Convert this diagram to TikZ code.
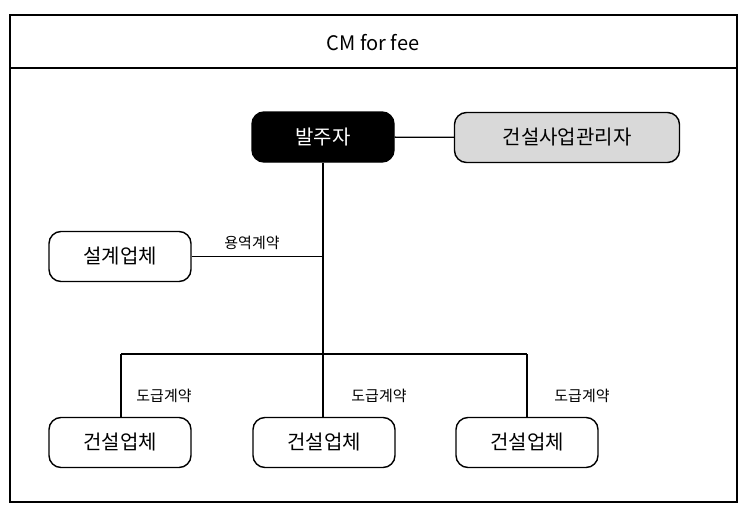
\documentclass[tikz,border=0pt]{standalone}
\usepackage{fontspec}
\setmainfont{Noto Sans CJK KR}
\begin{document}
\begin{tikzpicture}[x=1pt,y=-1pt,
  box/.style={draw=black,line width=1.4pt,rounded corners=12pt,minimum width=142pt,minimum height=50pt,font=\fontsize{20}{22}\selectfont,inner sep=0pt},
  lbl/.style={font=\fontsize{15}{17}\selectfont,inner sep=1pt},
  conn/.style={line width=1.3pt}]
\useasboundingbox (0,0) rectangle (747,514);
\draw[line width=1.5pt] (10,15) rectangle (737,502);
\draw[line width=1.5pt] (10,68) -- (737,68);
\node[font=\fontsize{20}{22}\selectfont] (title) at (373,43) {CM for fee};
\node[box,fill=black,text=white] (owner) at (323,137) {발주자};
\node[box,fill=black!15,minimum width=225pt] (cm) at (567,137.5) {건설사업관리자};
\node[box] (design) at (120,256.5) {설계업체};
\node[box] (c1) at (120,442.5) {건설업체};
\node[box] (c2) at (324,442.5) {건설업체};
\node[box] (c3) at (527,442.5) {건설업체};
\coordinate (j1) at (323,256.5);
\coordinate (j2) at (323,354);
\coordinate (l) at (121,354);
\coordinate (r) at (527,354);
\draw[conn] (owner) -- (cm);
\draw[conn] (owner.south) -- (j2);
\draw[conn] (design.east) -- (j1);
\draw[conn] (l) -- (r);
\draw[conn] (l) -- (l |- c1.north);
\draw[conn] (j2) -- (j2 |- c2.north);
\draw[conn] (r) -- (r |- c3.north);
\node[lbl] (t0) at (252,243) {용역계약};
\node[lbl] (t1) at (164,396) {도급계약};
\node[lbl] (t2) at (379,396) {도급계약};
\node[lbl] (t3) at (582,396) {도급계약};
\end{tikzpicture}
\end{document}
